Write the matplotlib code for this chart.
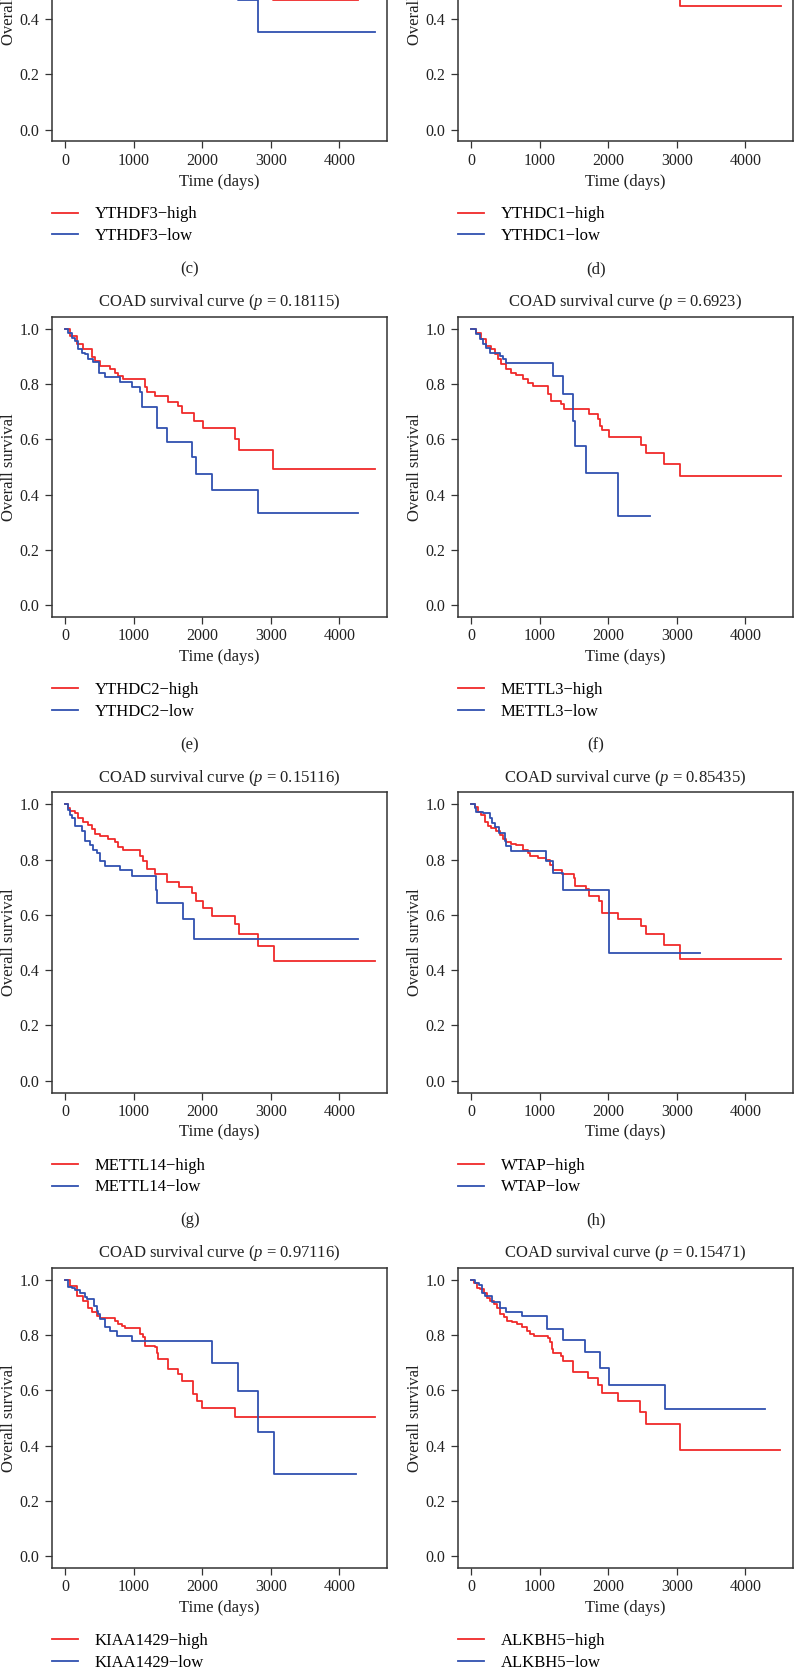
import matplotlib
matplotlib.use("Agg")
import matplotlib.pyplot as plt

plt.rcParams['font.family'] = 'Liberation Serif'
plt.rcParams['mathtext.fontset'] = 'custom'
plt.rcParams['mathtext.rm'] = 'Liberation Serif'
plt.rcParams['mathtext.it'] = 'Liberation Serif:italic'

RED = '#f02a2a'
BLUE = '#3050b0'

# Kaplan-Meier step points (days, survival)
# (c) YTHDF3 - only the tail is inside the crop
ythdf3_high_t = [0, 3030, 4270]
ythdf3_high_s = [1.0, 0.47, 0.47]
ythdf3_low_t = [0, 2520, 2813, 4519]
ythdf3_low_s = [1.0, 0.468, 0.354, 0.354]

# (d) YTHDC1 - only the tail is inside the crop
ythdc1_high_t = [0, 3045, 4514]
ythdc1_high_s = [1.0, 0.449, 0.449]
ythdc1_low_t = [0, 2600]
ythdc1_low_s = [1.0, 1.0]

# (e) YTHDC2
ythdc2_high_t = [0, 73, 170, 267, 389, 437, 510, 656, 729, 777, 850, 1166, 1190, 1312, 1506,
                 1652, 1700, 1880, 2007, 2478, 2541, 3037, 4519]
ythdc2_high_s = [1.0, 0.974, 0.944, 0.926, 0.90, 0.884, 0.866, 0.854, 0.842, 0.83, 0.818, 0.788,
                 0.77, 0.758, 0.737, 0.72, 0.697, 0.667, 0.64, 0.60, 0.563, 0.493, 0.493]
ythdc2_low_t = [0, 49, 97, 146, 194, 243, 292, 340, 413, 500, 583, 802, 972, 1093, 1118, 1336,
                1346, 1482, 1846, 1910, 2138, 2818, 4276]
ythdc2_low_s = [1.0, 0.986, 0.968, 0.956, 0.926, 0.914, 0.908, 0.89, 0.88, 0.842, 0.827, 0.808,
                0.788, 0.77, 0.719, 0.673, 0.64, 0.592, 0.535, 0.475, 0.418, 0.335, 0.335]

# (f) METTL3
mettl3_high_t = [0, 78, 150, 223, 296, 345, 393, 442, 515, 587, 660, 757, 830, 903, 1121, 1170,
                 1316, 1350, 1718, 1850, 1874, 1913, 2010, 2481, 2544, 2820, 3049, 4519]
mettl3_high_s = [1.0, 0.986, 0.962, 0.938, 0.926, 0.908, 0.89, 0.872, 0.854, 0.842, 0.832, 0.818,
                 0.804, 0.794, 0.764, 0.738, 0.728, 0.71, 0.692, 0.674, 0.65, 0.633, 0.608, 0.578,
                 0.551, 0.512, 0.467, 0.467]
mettl3_low_t = [0, 78, 126, 175, 223, 272, 417, 466, 515, 1194, 1340, 1485, 1510, 1670, 2141, 2602]
mettl3_low_s = [1.0, 0.98, 0.962, 0.944, 0.932, 0.914, 0.902, 0.89, 0.875, 0.83, 0.764, 0.668,
                0.576, 0.48, 0.321, 0.321]

# (g) METTL14
mettl14_high_t = [0, 49, 73, 146, 194, 267, 340, 389, 437, 510, 632, 729, 777, 850, 1093, 1142,
                  1190, 1312, 1492, 1667, 1846, 1910, 2007, 2138, 2478, 2541, 2818, 3047, 4519]
mettl14_high_s = [1.0, 0.986, 0.976, 0.968, 0.95, 0.938, 0.926, 0.911, 0.892, 0.884, 0.875, 0.863,
                  0.847, 0.836, 0.812, 0.794, 0.766, 0.748, 0.718, 0.70, 0.679, 0.652, 0.625, 0.595,
                  0.568, 0.532, 0.487, 0.433, 0.433]
mettl14_low_t = [0, 49, 73, 97, 146, 243, 292, 364, 413, 462, 510, 583, 802, 972, 1327, 1346,
                 1715, 1880, 4276]
mettl14_low_s = [1.0, 0.98, 0.962, 0.952, 0.92, 0.902, 0.868, 0.854, 0.836, 0.824, 0.794, 0.778,
                 0.761, 0.742, 0.691, 0.643, 0.586, 0.511, 0.511]

# (h) WTAP
wtap_high_t = [0, 53, 102, 150, 199, 248, 296, 369, 417, 466, 515, 587, 660, 757, 830, 864, 976,
               1097, 1146, 1194, 1330, 1495, 1510, 1670, 1718, 1864, 1913, 2141, 2481, 2544, 2820,
               3049, 4519]
wtap_high_s = [1.0, 0.992, 0.971, 0.962, 0.938, 0.92, 0.914, 0.902, 0.89, 0.875, 0.863, 0.857,
               0.854, 0.836, 0.824, 0.812, 0.806, 0.80, 0.782, 0.764, 0.749, 0.734, 0.704, 0.692,
               0.668, 0.65, 0.608, 0.585, 0.56, 0.53, 0.491, 0.44, 0.44]
wtap_low_t = [0, 53, 78, 175, 272, 311, 345, 408, 490, 515, 587, 1097, 1194, 1340, 2010, 3330]
wtap_low_s = [1.0, 0.986, 0.971, 0.968, 0.95, 0.932, 0.917, 0.896, 0.866, 0.848, 0.833, 0.796,
              0.752, 0.689, 0.461, 0.461]

# (i) KIAA1429
kiaa1429_high_t = [0, 73, 170, 267, 340, 389, 462, 510, 729, 777, 826, 875, 1094, 1142, 1166, 1312,
                   1337, 1361, 1507, 1652, 1701, 1861, 1920, 2002, 2479, 4520]
kiaa1429_high_s = [1.0, 0.978, 0.942, 0.924, 0.90, 0.882, 0.87, 0.862, 0.852, 0.84, 0.834, 0.825,
                   0.804, 0.792, 0.762, 0.756, 0.737, 0.713, 0.677, 0.659, 0.635, 0.587, 0.563,
                   0.536, 0.503, 0.503]
kiaa1429_low_t = [0, 49, 97, 146, 219, 292, 326, 423, 462, 486, 510, 583, 656, 753, 972, 2139, 2527,
                  2819, 3047, 4243]
kiaa1429_low_s = [1.0, 0.975, 0.969, 0.963, 0.951, 0.939, 0.93, 0.906, 0.888, 0.876, 0.858, 0.828,
                  0.816, 0.798, 0.777, 0.698, 0.599, 0.449, 0.298, 0.298]

# (j) ALKBH5
alkbh5_high_t = [0, 39, 87, 136, 184, 233, 281, 330, 378, 427, 475, 524, 596, 669, 742, 815, 863,
                 912, 1130, 1154, 1178, 1202, 1309, 1348, 1493, 1712, 1847, 1905, 2138, 2463, 2545,
                 3045, 4499]
alkbh5_high_s = [1.0, 0.99, 0.971, 0.966, 0.954, 0.936, 0.924, 0.912, 0.898, 0.876, 0.864, 0.852,
                 0.846, 0.84, 0.828, 0.816, 0.804, 0.798, 0.79, 0.774, 0.75, 0.736, 0.726, 0.708,
                 0.666, 0.645, 0.62, 0.591, 0.561, 0.521, 0.479, 0.383, 0.383]
alkbh5_low_t = [0, 63, 112, 160, 208, 305, 427, 514, 742, 1105, 1348, 1663, 1881, 2012, 2827, 4281]
alkbh5_low_s = [1.0, 0.99, 0.981, 0.954, 0.942, 0.921, 0.897, 0.884, 0.868, 0.822, 0.783, 0.739,
                0.681, 0.618, 0.532, 0.532]

genes = ['YTHDF3', 'YTHDC1', 'YTHDC2', 'METTL3', 'METTL14', 'WTAP', 'KIAA1429', 'ALKBH5']
p_values = [None, None, '0.18115', '0.6923', '0.15116', '0.85435', '0.97116', '0.15471']
letters = ['(c)', '(d)', '(e)', '(f)', '(g)', '(h)', '(i)', '(j)']
high_t = [ythdf3_high_t, ythdc1_high_t, ythdc2_high_t, mettl3_high_t, mettl14_high_t, wtap_high_t,
          kiaa1429_high_t, alkbh5_high_t]
high_s = [ythdf3_high_s, ythdc1_high_s, ythdc2_high_s, mettl3_high_s, mettl14_high_s, wtap_high_s,
          kiaa1429_high_s, alkbh5_high_s]
low_t = [ythdf3_low_t, ythdc1_low_t, ythdc2_low_t, mettl3_low_t, mettl14_low_t, wtap_low_t,
         kiaa1429_low_t, alkbh5_low_t]
low_s = [ythdf3_low_s, ythdc1_low_s, ythdc2_low_s, mettl3_low_s, mettl14_low_s, wtap_low_s,
         kiaa1429_low_s, alkbh5_low_s]

W, H = 794, 1667
fig = plt.figure(figsize=(W / 100, H / 100), dpi=100)
fs = 12       # titles, labels, legend
fs_tick = 11.5

col_x = [52, 458]
ax_w, ax_h = 335, 300
row_pitch = 475.5
first_top = 317 - row_pitch  # top row is cut off by the crop

for i, gene in enumerate(genes):
    row, col = divmod(i, 2)
    x0 = col_x[col]
    top = first_top + row * row_pitch
    bottom = top + ax_h
    ax = fig.add_axes([x0 / W, 1 - bottom / H, ax_w / W, ax_h / H])
    ax.step(high_t[i], high_s[i], where='post', color=RED, lw=1.3, label=gene + '\u2212high')
    ax.step(low_t[i], low_s[i], where='post', color=BLUE, lw=1.3, label=gene + '\u2212low')
    ax.set_xlim(-188, 4692)
    ax.set_ylim(-0.043, 1.043)
    ax.set_xticks([0, 1000, 2000, 3000, 4000])
    ax.set_yticks([0.0, 0.2, 0.4, 0.6, 0.8, 1.0])
    ax.set_yticklabels(['0.0', '0.2', '0.4', '0.6', '0.8', '1.0'])
    ax.tick_params(direction='out', length=5, width=0.9, labelsize=fs_tick, color='#333333',
                   labelcolor='#222222')
    ax.tick_params(axis='y', pad=4)
    ax.tick_params(axis='x', pad=3)
    for sp in ax.spines.values():
        sp.set_linewidth(1.1)
        sp.set_color('#333333')

    cx = (x0 + ax_w / 2) / W
    if p_values[i] is not None:
        fig.text(cx, 1 - (top - 15) / H, 'COAD survival curve ($p$ = ' + p_values[i] + ')',
                 ha='center', va='center', fontsize=fs, color='#222222')
    fig.text(cx, 1 - (bottom + 40) / H, 'Time (days)', ha='center', va='center',
             fontsize=fs, color='#222222')
    fig.text((x0 - 43) / W, 1 - (top + ax_h / 2) / H, 'Overall survival', rotation=90,
             ha='center', va='center', fontsize=fs, color='#222222')
    ax.legend(loc='upper left', bbox_to_anchor=(x0 / W, 1 - (bottom + 65) / H),
              bbox_transform=fig.transFigure, frameon=False, fontsize=fs, borderpad=0,
              borderaxespad=0, handlelength=1.55, handletextpad=1.0, labelspacing=0.35)
    fig.text((x0 + 138) / W, 1 - (bottom + 128) / H, letters[i], ha='center', va='center',
             fontsize=fs, color='#222222')

fig.savefig('out.png', dpi=100)
